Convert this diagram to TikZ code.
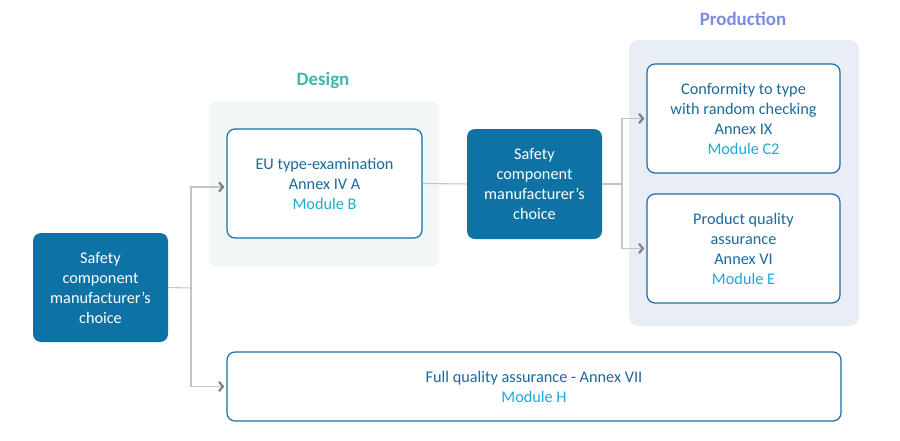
\documentclass[tikz,border=0pt]{standalone}
\usepackage{fontspec}
\setmainfont{Carlito}
\usetikzlibrary{arrows.meta,positioning}
\definecolor{darkbox}{HTML}{0E72A5}
\definecolor{txtblue}{HTML}{1A6A9C}
\definecolor{modcol}{HTML}{1EAAD6}
\definecolor{bordercol}{HTML}{1A6EA2}
\definecolor{designbg}{HTML}{F1F6F7}
\definecolor{prodbg}{HTML}{E9EDF6}
\definecolor{designlbl}{HTML}{3DB8AC}
\definecolor{prodlbl}{HTML}{7A8CE0}
\definecolor{linecol}{HTML}{C4C4C4}
\definecolor{tipcol}{HTML}{808080}
\tikzset{
  darknode/.style={fill=darkbox, text=white, rounded corners=6pt, align=center,
    font=\fontsize{12.2}{15}\selectfont, inner sep=0pt},
  whitenode/.style={draw=bordercol, line width=0.9pt, fill=white, text=txtblue, rounded corners=6pt,
    align=center, font=\fontsize{12.2}{15}\selectfont, inner sep=0pt},
  groupbg/.style={rounded corners=7pt, draw=none},
  grouplbl/.style={font=\bfseries\fontsize{14.2}{16}\selectfont},
  conn/.style={draw=linecol, line width=0.8pt},
  arr/.style={conn, -{Straight Barb[length=3pt,width=7pt,line width=1.6pt,color=tipcol]}},
  mod/.style={text=modcol}
}
\begin{document}
\begin{tikzpicture}[x=0.75pt,y=-0.75pt]
\useasboundingbox (0,0) rectangle (900,440);
% group backgrounds
\fill[designbg, groupbg] (209,101) rectangle (439,267);
\fill[prodbg, groupbg] (629,40) rectangle (859,326);
\node[grouplbl, text=designlbl] (designlabel) at (323,80) {Design};
\node[grouplbl, text=prodlbl] (prodlabel) at (743,19) {Production};
% nodes
\node[darknode, minimum width=101.25pt, minimum height=81.75pt] (left) at (100.5,287.5)
  {Safety\\component\\manufacturer’s\\choice};
\node[whitenode, minimum width=146.25pt, minimum height=81.75pt] (eu) at (324.5,183.5)
  {EU type-examination\\Annex IV A\\\textcolor{modcol}{Module B}};
\node[darknode, minimum width=101.25pt, minimum height=82.5pt] (mid) at (534.5,184)
  {Safety\\component\\manufacturer’s\\choice};
\node[whitenode, minimum width=144.75pt, minimum height=81.75pt] (conf) at (743.5,118.5)
  {Conformity to type\\with random checking\\Annex IX\\\textcolor{modcol}{Module C2}};
\node[whitenode, minimum width=144.75pt, minimum height=81.75pt] (pqa) at (743.5,248.5)
  {Product quality\\assurance\\Annex VI\\\textcolor{modcol}{Module E}};
\node[whitenode, minimum width=460.5pt, minimum height=51.75pt] (full) at (534,386.5)
  {Full quality assurance - Annex VII\\\textcolor{modcol}{Module H}};
% connectors
\coordinate (j1) at (191,288);
\coordinate (j2) at (622,184);
\draw[conn] (left.east) -- (j1);
\draw[arr] (j1) |- ([yshift=-2.6pt,xshift=-1.5pt]eu.west);
\draw[arr] (j1) |- ([xshift=-1.5pt]full.west);
\draw[conn] (eu.east) -- (mid.west);
\draw[conn] (mid.east) -- (j2);
\draw[arr] (j2) |- ([xshift=-1.5pt]conf.west);
\draw[arr] (j2) |- ([xshift=-1.5pt]pqa.west);
\end{tikzpicture}
\end{document}
